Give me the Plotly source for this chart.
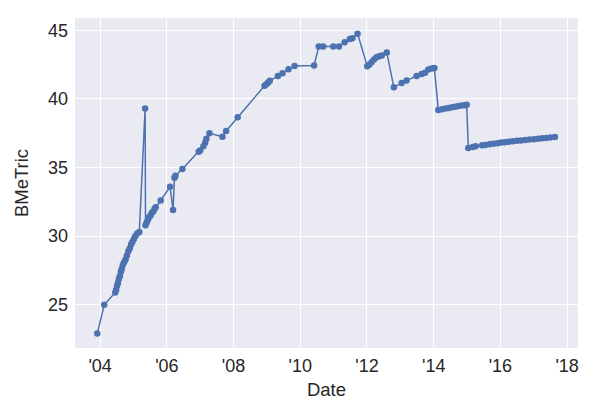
import plotly.graph_objects as go

dates = [
    "2003-12-01", "2004-02-15",
    "2004-06-15", "2004-06-25", "2004-07-05", "2004-07-15", "2004-07-25", "2004-08-05",
    "2004-08-15", "2004-08-25", "2004-09-05", "2004-09-20", "2004-10-05", "2004-10-20",
    "2004-11-05", "2004-11-20", "2004-12-05", "2004-12-20", "2005-01-05", "2005-01-20",
    "2005-02-10", "2005-03-05",
    "2005-05-08",
    "2005-05-12", "2005-05-25", "2005-06-08", "2005-06-22", "2005-07-06", "2005-07-20",
    "2005-08-05", "2005-08-20", "2005-09-01",
    "2005-10-25", "2006-02-05", "2006-03-10", "2006-03-25", "2006-04-05", "2006-06-20",
    "2006-12-15", "2007-01-01", "2007-02-05", "2007-02-25", "2007-03-10", "2007-04-12",
    "2007-09-01", "2007-10-12", "2008-02-15",
    "2008-12-05", "2008-12-25", "2009-01-15", "2009-02-01", "2009-05-01", "2009-06-20",
    "2009-08-25", "2009-10-30", "2010-06-01",
    "2010-07-22", "2010-09-08", "2010-12-28", "2011-03-01", "2011-05-01", "2011-06-28",
    "2011-07-26", "2011-09-20",
    "2012-01-04", "2012-01-26", "2012-02-20", "2012-03-18", "2012-04-15", "2012-05-15",
    "2012-06-12", "2012-08-05",
    "2012-10-22", "2013-01-15", "2013-03-10", "2013-06-28", "2013-08-22", "2013-09-28",
    "2013-11-03", "2013-12-10", "2014-01-08",
    "2014-02-20", "2014-04-01", "2014-05-10", "2014-06-15", "2014-07-20", "2014-08-25",
    "2014-10-01", "2014-11-05", "2014-12-10", "2014-12-28",
    "2015-01-15", "2015-03-05", "2015-04-05", "2015-06-15", "2015-07-20", "2015-09-01",
    "2015-10-15", "2015-12-01", "2016-01-10", "2016-02-20", "2016-04-01", "2016-05-15",
    "2016-07-01", "2016-08-15", "2016-10-01", "2016-11-15", "2017-01-01", "2017-02-15",
    "2017-04-01", "2017-05-15", "2017-07-01", "2017-08-20",
]

bmetric = [
    22.9, 25.0,
    25.9, 26.1, 26.4, 26.6, 26.9, 27.1,
    27.4, 27.6, 27.9, 28.1, 28.3, 28.6,
    28.9, 29.1, 29.4, 29.6, 29.8, 30.0,
    30.2, 30.3,
    39.3,
    30.8, 31.0, 31.2, 31.4, 31.5, 31.7,
    31.8, 32.0, 32.1,
    32.6, 33.6, 31.9, 34.25, 34.4, 34.9,
    36.15, 36.25, 36.55, 36.8, 37.1, 37.5,
    37.25, 37.66, 38.67,
    40.96, 41.07, 41.2, 41.33, 41.67, 41.88,
    42.17, 42.41, 42.44,
    43.82, 43.82, 43.82, 43.82, 44.13, 44.37,
    44.42, 44.76,
    42.39, 42.49, 42.68, 42.88, 43.04, 43.12,
    43.17, 43.38,
    40.85, 41.16, 41.35, 41.67, 41.81, 41.91,
    42.15, 42.22, 42.25,
    39.2, 39.25, 39.3, 39.35, 39.4, 39.44,
    39.48, 39.52, 39.55, 39.57,
    36.43, 36.5, 36.55, 36.63, 36.65, 36.7,
    36.74, 36.78, 36.82, 36.85, 36.88, 36.92,
    36.95, 36.98, 37.01, 37.04, 37.07, 37.1,
    37.13, 37.16, 37.19, 37.22,
]

y_ticks = [25, 30, 35, 40, 45]

fig = go.Figure()
fig.add_trace(go.Scatter(
    x=dates, y=bmetric, mode="lines+markers",
    line=dict(color="#4C72B0", width=1.5),
    marker=dict(color="#4C72B0", size=6.5),
    showlegend=False,
))

# page body has an 8px default margin, so margins are offset by 8px
fig.update_layout(
    width=600, height=420,
    margin=dict(l=67, r=30, t=10, b=80),
    paper_bgcolor="white",
    plot_bgcolor="#EAEAF2",
    font=dict(family="Liberation Sans, Arial, sans-serif", color="#262626", size=18),
    xaxis=dict(
        title=dict(text="Date", font=dict(size=18.5), standoff=8),
        type="date", automargin=False,
        range=["2003-04-01", "2018-04-30"],
        tick0="2004-01-01", dtick="M24", tickformat="'%y",
        showgrid=True, gridcolor="white", gridwidth=1.3,
        zeroline=False, showline=False, ticks="", ticklabelstandoff=5,
    ),
    yaxis=dict(
        title=dict(text="BMeTric", font=dict(size=18.5), standoff=14),
        automargin=False,
        range=[21.85, 45.9],
        tickvals=y_ticks,
        showgrid=True, gridcolor="white", gridwidth=1.3,
        zeroline=False, showline=False, ticks="", ticklabelstandoff=6,
    ),
)

fig.write_html("out.html")
